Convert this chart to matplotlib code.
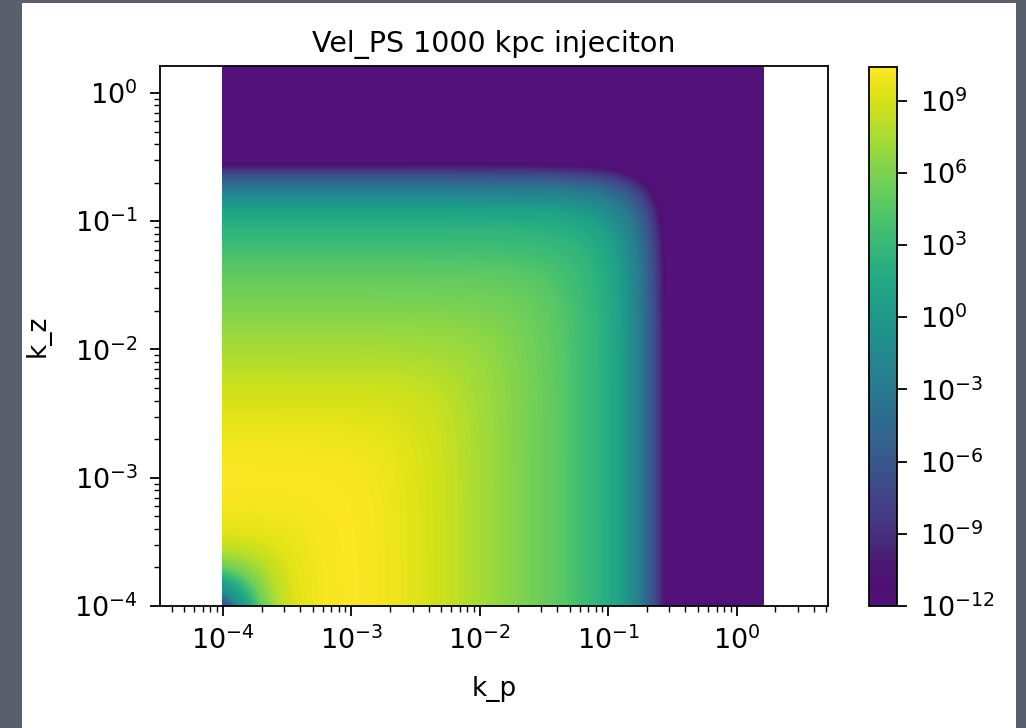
import numpy as np
import matplotlib
matplotlib.use("Agg")
import matplotlib.pyplot as plt
from matplotlib.colors import LogNorm, ListedColormap
from matplotlib.patches import Rectangle

# spectrum vs |k| (log10 k, log10 P); it looks isotropic in (k_p, k_z)
log_k = np.array([-3.86, -3.82, -3.78, -3.72, -3.64, -3.53, -3.40, -3.20, -3.00,
                  -2.80, -2.60, -2.27, -2.00, -1.69, -1.38, -1.07, -0.91, -0.75,
                  -0.64, -0.57, -0.54, 0.40])
log_P = np.array([-8.0, -5.0, -1.0, 1.5, 5.5, 8.0, 9.4, 10.1, 10.3,
                  10.1, 9.6, 8.6, 7.4, 6.1, 4.7, 2.5, 0.8, -2.8,
                  -7.0, -10.5, -11.95, -11.95])

k_lo, k_hi = 1e-4, 10**0.21        # extent of the k grid
cbar_ticks = [1e-12, 1e-9, 1e-6, 1e-3, 1e0, 1e3, 1e6, 1e9]
vmin, vmax = 1e-12, 10**10.4
title = "Vel_PS 1000 kpc injeciton"

plt.rcParams.update({
    "axes.titlesize": 20.5,
    "axes.labelsize": 19,
    "xtick.labelsize": 19.5,
    "ytick.labelsize": 19.5,
    "axes.linewidth": 1.3,
    "xtick.major.size": 7.5, "ytick.major.size": 7.5,
    "xtick.major.width": 1.3, "ytick.major.width": 1.3,
    "xtick.minor.size": 4.3, "ytick.minor.size": 4.3,
    "xtick.minor.width": 1.0, "ytick.minor.width": 1.0,
    "xtick.major.pad": 7.5, "ytick.major.pad": 8.5,
    "axes.titlepad": 10,
})

# the slide's viridis looks a bit lifted at the dark end
base = plt.get_cmap("viridis")(np.linspace(0, 1, 256))
low = np.array([0x52, 0x12, 0x7a, 255]) / 255
w = np.clip(1 - np.arange(256) / 30, 0, 1)[:, None]
cmap = ListedColormap(base * (1 - w) + low * w)

fig = plt.figure(figsize=(10.26, 7.28), dpi=100, facecolor="#5a5f6d")
# white slide area behind the plot
fig.patches.append(Rectangle((22 / 1026, 0), 994 / 1026, 1 - 3 / 728,
                             transform=fig.transFigure, facecolor="white",
                             edgecolor="none", zorder=-10))

ax = fig.add_axes([160 / 1026, 1 - 606 / 728, 668 / 1026, 540 / 728])
cax = fig.add_axes([869 / 1026, 1 - 606 / 728, 28 / 1026, 539 / 728])

kp = np.logspace(np.log10(k_lo), np.log10(k_hi), 600)
KP, KZ = np.meshgrid(kp, kp)
K = np.sqrt(KP**2 + KZ**2)
P = 10 ** np.interp(np.log10(K), log_k, log_P)

levels = np.logspace(np.log10(vmin), np.log10(vmax), 150)
cs = ax.contourf(KP, KZ, P, levels=levels, norm=LogNorm(vmin=vmin, vmax=vmax),
                 cmap=cmap)

ax.set_xscale("log")
ax.set_yscale("log")
ax.set_xlim(10**-4.49, 10**0.712)
ax.set_ylim(k_lo, k_hi)
ax.set_title(title)
ax.set_xlabel("k_p", labelpad=15)
ax.set_ylabel("k_z", labelpad=17)

cb = fig.colorbar(cs, cax=cax, ticks=cbar_ticks)
cb.outline.set_linewidth(1.3)
cax.minorticks_off()
cax.tick_params(length=7.5, width=1.3, pad=9)

fig.savefig("out.png", dpi=100, facecolor=fig.get_facecolor())
